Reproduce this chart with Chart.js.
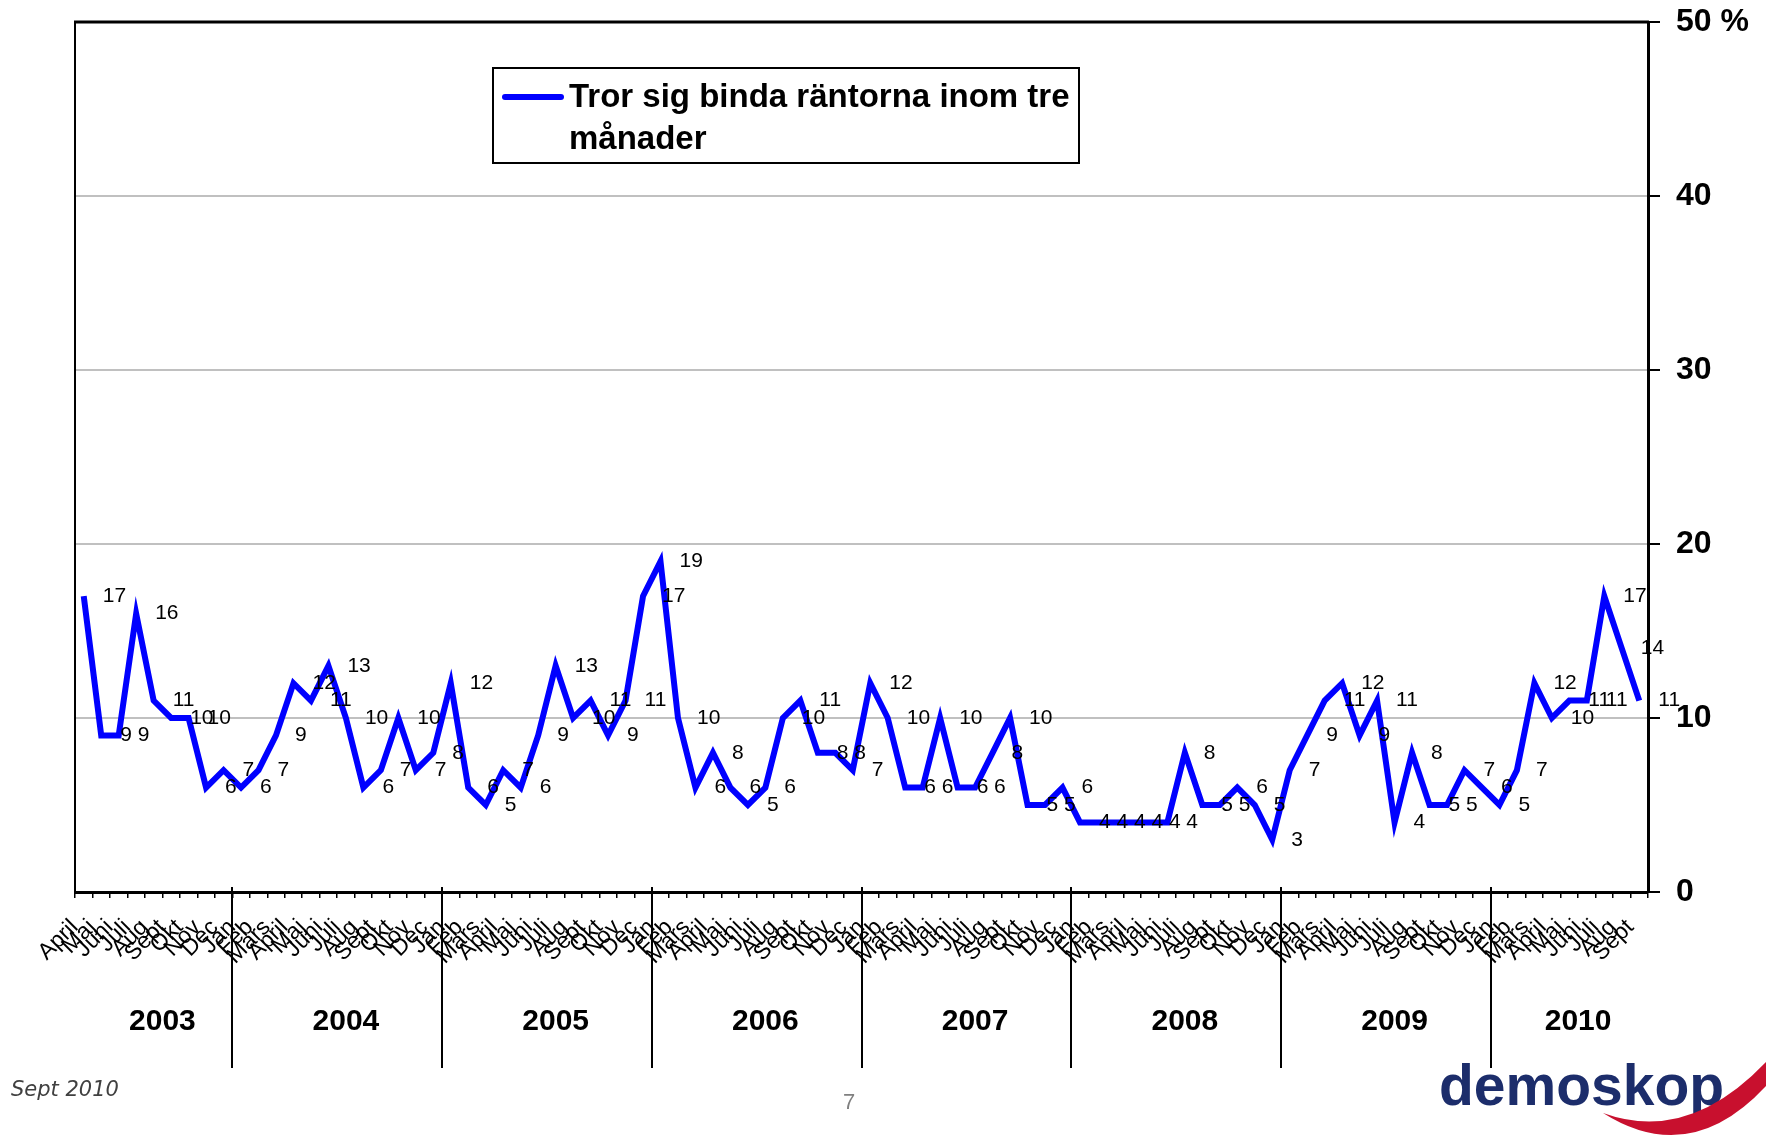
<!DOCTYPE html>
<html>
<head>
  <meta charset="utf-8">
  <title>Tror sig binda räntorna inom tre månader</title>
  <script src="https://cdn.jsdelivr.net/npm/chart.js"></script>
  <style>
    body { margin: 0; background: #fff; }
    #wrap { position: relative; width: 1766px; height: 1142px; overflow: hidden; }
    #lineChart { position: absolute; left: 0; top: 0; }
    .note { position: absolute; white-space: nowrap; line-height: 1; }
    #datum { left: 11px; top: 1077px; font: italic 21px "DejaVu Sans", sans-serif; color: #404040; }
    #sida { left: 843px; top: 1089px; font: 22px "Liberation Sans", Arial, sans-serif; color: #808080; }
    #logo { left: 1439px; top: 1052px; font: bold 57px "Liberation Sans", Arial, sans-serif; color: #1c2d6b; }
    #swoosh { position: absolute; left: 0; top: 0; }
  </style>
</head>
<body>
<div id="wrap">
  <canvas id="lineChart" width="1766" height="1142"></canvas>
  <div class="note" id="datum">Sept 2010</div>
  <div class="note" id="sida">7</div>
  <div class="note" id="logo">demoskop</div>
  <svg id="swoosh" width="1766" height="1142">
    <path d="M1603,1113 Q1690,1168 1766,1086 L1766,1062 Q1688,1144 1603,1113 Z" fill="#c8102e"/>
  </svg>
</div>

<script>
  // months and years on the x axis
  const monthNames = ['Jan', 'Feb', 'Mars', 'April', 'Maj', 'Juni', 'Juli', 'Aug', 'Sept', 'Okt', 'Nov', 'Dec'];
  const years = ['2003', '2004', '2005', '2006', '2007', '2008', '2009', '2010'];

  // percent per month (2003 starts in April, 2010 ends in Sept)
  const v2003 = [17, 9, 9, 16, 11, 10, 10, 6, 7];
  const v2004 = [6, 7, 9, 12, 11, 13, 10, 6, 7, 10, 7, 8];
  const v2005 = [12, 6, 5, 7, 6, 9, 13, 10, 11, 9, 11, 17];
  const v2006 = [19, 10, 6, 8, 6, 5, 6, 10, 11, 8, 8, 7];
  const v2007 = [12, 10, 6, 6, 10, 6, 6, 8, 10, 5, 5, 6];
  const v2008 = [4, 4, 4, 4, 4, 4, 8, 5, 5, 6, 5, 3];
  const v2009 = [7, 9, 11, 12, 9, 11, 4, 8, 5, 5, 7, 6];
  const v2010 = [5, 7, 12, 10, 11, 11, 17, 14, 11];

  const yAxisTicks = [0, 10, 20, 30, 40, 50];
  const seriesLabel = 'Tror sig binda räntorna inom tre månader';

  const yearValues = [v2003, v2004, v2005, v2006, v2007, v2008, v2009, v2010];
  const labels = [];
  const values = [];
  const yearSpans = [];
  yearValues.forEach((vals, k) => {
    const start = k === 0 ? 12 - vals.length : 0;
    const first = values.length;
    vals.forEach((v, j) => {
      labels.push(monthNames[start + j]);
      values.push(v);
    });
    yearSpans.push({ year: years[k], first: first, last: values.length - 1 });
  });

  const FONT = '"Liberation Sans", Arial, sans-serif';
  Chart.defaults.font.family = FONT;
  Chart.defaults.color = '#000';

  // frame, year dividers and year labels
  const yearDecor = {
    id: 'yearDecor',
    afterDraw(chart) {
      const { ctx, chartArea: a } = chart;
      const x = chart.scales.x;
      ctx.save();
      ctx.strokeStyle = '#000';
      ctx.lineWidth = 2;
      ctx.beginPath(); ctx.moveTo(a.left, a.top); ctx.lineTo(a.left, a.bottom + 2); ctx.stroke();
      ctx.lineWidth = 3;
      ctx.beginPath(); ctx.moveTo(a.left - 1, a.top); ctx.lineTo(a.right + 1, a.top); ctx.stroke();

      ctx.lineWidth = 2;
      ctx.fillStyle = '#000';
      ctx.font = 'bold 30px ' + FONT;
      ctx.textAlign = 'center';
      ctx.textBaseline = 'middle';
      yearSpans.forEach((s, k) => {
        if (k > 0) {
          const px = Math.round(x.getPixelForValue(s.first - 0.5));
          ctx.beginPath(); ctx.moveTo(px, a.bottom - 5); ctx.lineTo(px, a.bottom + 176); ctx.stroke();
        }
        const cx = x.getPixelForValue((s.first + s.last) / 2 + 0.5);
        ctx.fillText(s.year, cx, a.bottom + 130);
      });
      ctx.restore();
    }
  };

  // value next to every point
  const pointLabels = {
    id: 'pointLabels',
    afterDatasetsDraw(chart) {
      const ctx = chart.ctx;
      const meta = chart.getDatasetMeta(0);
      ctx.save();
      ctx.font = '21px ' + FONT;
      ctx.fillStyle = '#000';
      ctx.textAlign = 'left';
      ctx.textBaseline = 'middle';
      meta.data.forEach((pt, i) => ctx.fillText(String(values[i]), pt.x + 19, pt.y));
      ctx.restore();
    }
  };

  // boxed legend inside the plot
  const boxLegend = {
    id: 'boxLegend',
    afterDraw(chart) {
      const { ctx, chartArea: a } = chart;
      const ds = chart.data.datasets[0];
      const x0 = a.left + 418, y0 = a.top + 46, w = 586, h = 95;
      ctx.save();
      ctx.fillStyle = '#fff';
      ctx.fillRect(x0, y0, w, h);
      ctx.strokeStyle = '#000';
      ctx.lineWidth = 2;
      ctx.strokeRect(x0, y0, w, h);
      ctx.strokeStyle = ds.borderColor;
      ctx.lineWidth = 6;
      ctx.lineCap = 'round';
      ctx.beginPath(); ctx.moveTo(x0 + 12, y0 + 29); ctx.lineTo(x0 + 68, y0 + 29); ctx.stroke();
      ctx.font = 'bold 33px ' + FONT;
      ctx.fillStyle = '#000';
      ctx.textAlign = 'left';
      ctx.textBaseline = 'middle';
      const lines = [];
      let cur = '';
      ds.label.split(' ').forEach(wd => {
        const t = cur ? cur + ' ' + wd : wd;
        if (cur && ctx.measureText(t).width > w - 80) { lines.push(cur); cur = wd; } else { cur = t; }
      });
      lines.push(cur);
      lines.forEach((ln, k) => ctx.fillText(ln, x0 + 76, y0 + 30 + k * 42));
      ctx.restore();
    }
  };

  const ctx = document.getElementById('lineChart').getContext('2d');
  const lineChart = new Chart(ctx, {
    type: 'line',
    data: {
      labels: labels,
      datasets: [{
        label: seriesLabel,
        data: values,
        borderColor: '#0000ff',
        borderWidth: 6,
        pointRadius: 0,
        pointHoverRadius: 0,
        tension: 0,
        fill: false
      }]
    },
    options: {
      responsive: false,
      animation: false,
      devicePixelRatio: 1,
      layout: { padding: { left: 75, top: 22, right: 0, bottom: 0 } },
      plugins: {
        legend: { display: false },
        tooltip: { enabled: false }
      },
      scales: {
        x: {
          type: 'category',
          offset: true,
          grid: { offset: true, drawOnChartArea: false, drawTicks: true, tickLength: 6, color: '#000', lineWidth: 1.5 },
          border: { display: true, color: '#000', width: 3 },
          ticks: {
            autoSkip: false,
            minRotation: 45,
            maxRotation: 45,
            padding: 16,
            labelOffset: -9,
            color: '#000',
            font: { size: 23 }
          },
          afterFit(scale) {
            scale.height = 250;
            scale.paddingLeft = 0;
            scale.paddingRight = 0;
          }
        },
        y: {
          position: 'right',
          min: yAxisTicks[0],
          max: yAxisTicks[yAxisTicks.length - 1],
          afterBuildTicks(scale) { scale.ticks = yAxisTicks.map(v => ({ value: v })); },
          grid: {
            color: c => (c.tick && c.tick.value > 0 && c.tick.value < 50) ? '#c0c0c0' : 'rgba(0,0,0,0)',
            tickColor: '#000',
            lineWidth: 2,
            tickLength: 12
          },
          border: { display: true, color: '#000', width: 3 },
          ticks: {
            padding: 16,
            color: '#000',
            font: { size: 32, weight: 'bold' },
            callback: v => v === 50 ? '50 %' : String(v)
          },
          afterFit(scale) {
            scale.width = 118;
            scale.paddingTop = 0;
            scale.paddingBottom = 0;
          }
        }
      }
    },
    plugins: [yearDecor, pointLabels, boxLegend]
  });
</script>
</body>
</html>
